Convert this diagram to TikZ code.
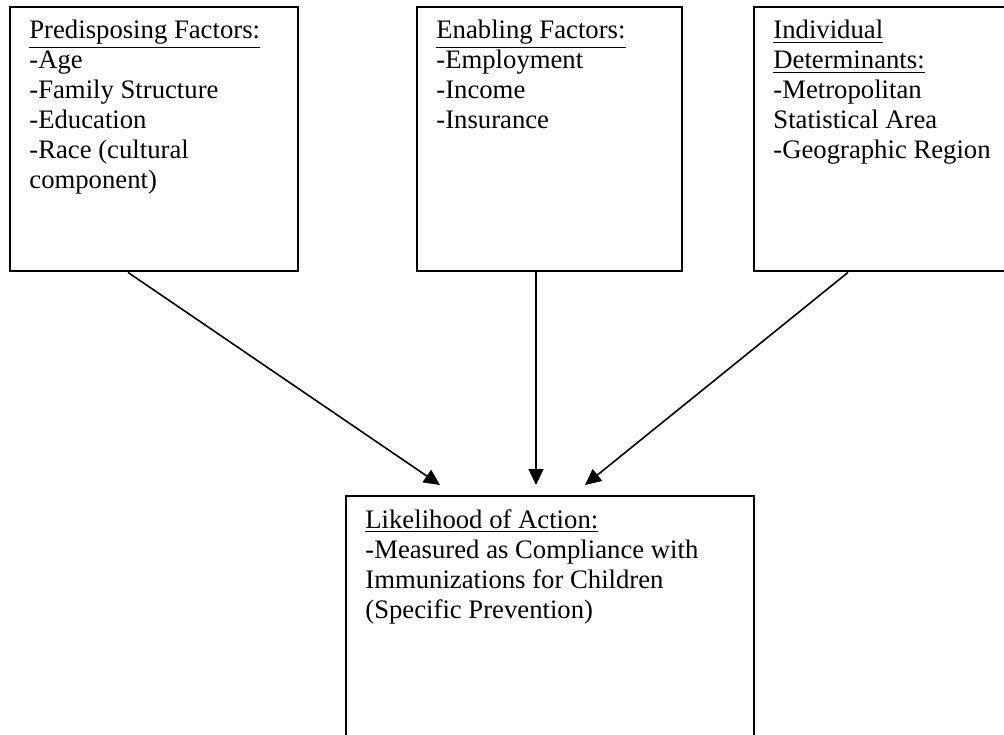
\documentclass[tikz,border=0pt]{standalone}
\usepackage{fontspec}
\setmainfont{Liberation Serif}
\usetikzlibrary{arrows.meta,positioning}

\begin{document}
\begin{tikzpicture}[x=0.5pt,y=-0.5pt,>={Triangle[length=8pt,width=7.5pt]},
                    factorbox/.style={rectangle, draw=black, line width=1.2pt, anchor=north west,
                                      inner sep=0pt, minimum height=132pt},
                    boxtext/.style={anchor=north west, inner sep=0pt, align=left,
                                    font=\fontsize{13.35}{15}\selectfont},
                    influence/.style={->, line width=0.8pt}]
  \path[use as bounding box, clip] (0,0) rectangle (1004,734);

  % the four boxes
  \node[factorbox, minimum width=144pt]                        (pre) at (9,6)     {};
  \node[factorbox, minimum width=132.5pt]                      (ena) at (416,6)   {};
  \node[factorbox, minimum width=150pt]                        (ind) at (753,6)   {};
  \node[factorbox, minimum width=204pt, minimum height=140pt]  (act) at (345,495) {};

  % their texts
  \node[boxtext] (pretext) at ([shift={(10pt,-7pt)}]pre.north west)
        {\underline{Predisposing Factors:}\\-Age\\-Family Structure\\-Education\\-Race (cultural\\component)};
  \node[boxtext] (enatext) at ([shift={(10pt,-7pt)}]ena.north west)
        {\underline{Enabling Factors:}\\-Employment\\-Income\\-Insurance};
  \node[boxtext] (indtext) at ([shift={(10pt,-7pt)}]ind.north west)
        {\underline{Individual}\\\underline{Determinants:}\\-Metropolitan\\Statistical Area\\-Geographic Region};
  \node[boxtext] (acttext) at ([shift={(10pt,-7pt)}]act.north west)
        {\underline{Likelihood of Action:}\\-Measured as Compliance with\\Immunizations for Children\\(Specific Prevention)};

  % arrows into the lower box
  \coordinate (t1) at ([shift={(47.5pt,5pt)}]act.north west);
  \coordinate (t2) at ([shift={(95.5pt,5pt)}]act.north west);
  \coordinate (t3) at ([shift={(120pt,5pt)}]act.north west);
  \draw[influence] ([xshift=59.5pt]pre.south west) -- (t1);
  \draw[influence] ([xshift=60pt]ena.south west)   -- (t2);
  \draw[influence] ([xshift=47.5pt]ind.south west) -- (t3);
\end{tikzpicture}
\end{document}
